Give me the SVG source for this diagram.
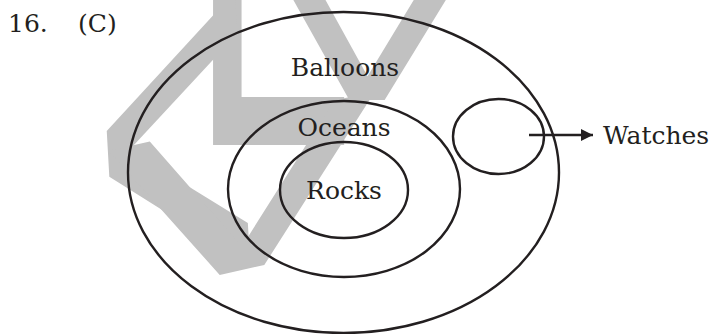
<svg xmlns="http://www.w3.org/2000/svg" width="714" height="334" viewBox="0 0 714 334">
<style>
.wm{font-family:"DejaVu Sans",sans-serif;font-weight:normal;font-size:100px;fill:#c1c1c1}
.lbl{font-family:"DejaVu Serif",serif;font-size:25px;fill:#231f20}
.set{fill:none;stroke:#231f20;stroke-width:2.4}
.con{fill:none;stroke:#231f20;stroke-width:2.4}
</style>
<defs>
<marker id="ah" viewBox="0 0 10 10" refX="10" refY="5" markerWidth="12" markerHeight="14" markerUnits="userSpaceOnUse" orient="auto">
<path d="M0,0 L10,5 L0,10 Z" fill="#231f20"/>
</marker>
</defs>
<rect width="714" height="334" fill="#fff"/>
<g id="watermark">
<text class="wm" transform="translate(184.7,145) scale(2.89,5.78)">L</text>
<text class="wm" transform="matrix(-0.230 -4.095 -1.845 0.350 115.9 294)">V</text>
<text class="wm" transform="matrix(3.988 -0.890 0 2.044 105.6 300.4)">V</text>
<text class="wm" transform="matrix(3.160 0 -0.0549 2.058 258.9 100)">V</text>
</g>
<g id="title">
<text class="lbl" x="8" y="32">16.</text>
<text class="lbl" x="78" y="32">(C)</text>
</g>
<g id="balloons">
<ellipse class="set" cx="343.5" cy="172.5" rx="215.5" ry="160.5"/>
<text class="lbl" x="345" y="76" text-anchor="middle">Balloons</text>
</g>
<g id="oceans">
<ellipse class="set" cx="344" cy="189" rx="116" ry="88"/>
<text class="lbl" x="344" y="136" text-anchor="middle">Oceans</text>
</g>
<g id="rocks">
<ellipse class="set" cx="344" cy="190" rx="64" ry="48"/>
<text class="lbl" x="344" y="199" text-anchor="middle">Rocks</text>
</g>
<g id="watches">
<ellipse class="set" cx="498.5" cy="136.5" rx="45.5" ry="37.5"/>
<text class="lbl" x="603" y="144">Watches</text>
</g>
<g id="connectors">
<line class="con" x1="529" y1="135" x2="593" y2="135" marker-end="url(#ah)"/>
</g>
</svg>
